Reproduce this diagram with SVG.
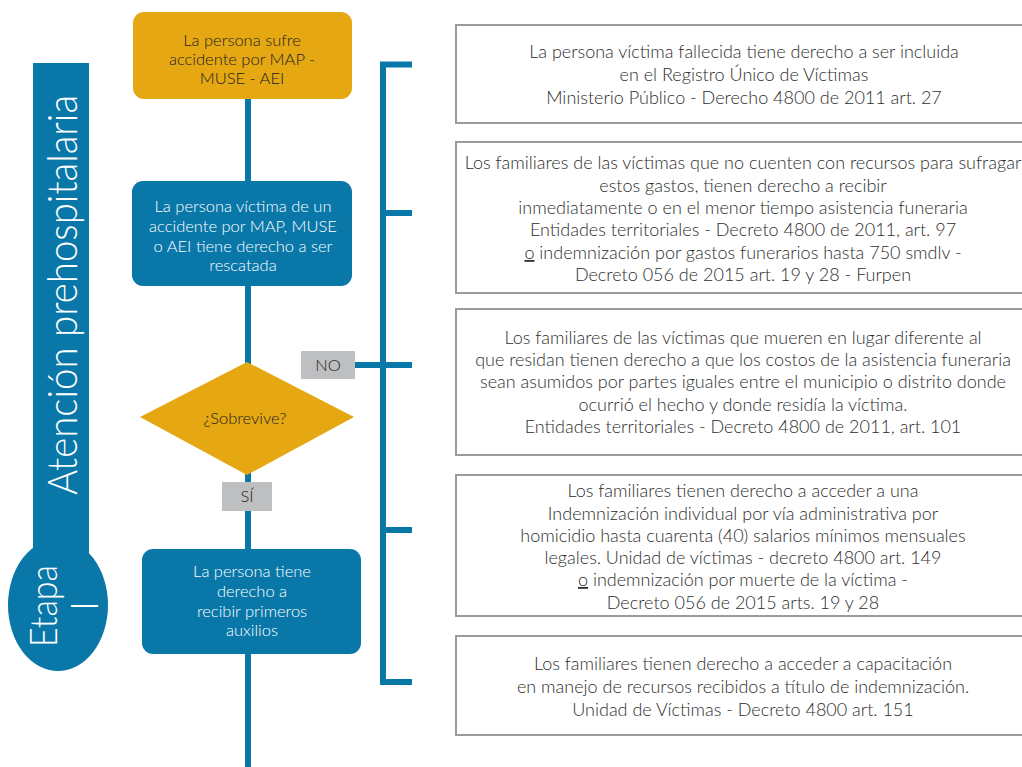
<svg xmlns="http://www.w3.org/2000/svg" width="1022" height="767" viewBox="0 0 1022 767">
<style>
.blue{fill:#0A77A9}
.yellow{fill:#E5A813}
.tag{fill:#BEBFC1}
.info{fill:#fff;stroke:#9B9B9B;stroke-width:2}
.line{stroke:#0A77A9;stroke-width:6;fill:none}
text{font-family:Lato,"Liberation Sans",Arial,sans-serif;font-weight:300}
.t{font-size:18px;fill:#2e2e2e;text-anchor:middle}
.w{font-size:16.5px;fill:#fff;text-anchor:middle}
.d{font-size:16.5px;fill:#222;text-anchor:middle}
.big{fill:#fff}
</style>
<g id="etapa">
<rect class="blue" x="33" y="63" width="56" height="490"/>
<ellipse class="blue" cx="58" cy="605" rx="50" ry="66"/>
<text class="big" font-size="41" transform="translate(77,495) rotate(-90)" textLength="400" lengthAdjust="spacingAndGlyphs">Atención prehospitalaria</text>
<text class="big" font-size="37" transform="translate(57,647) rotate(-90)" textLength="82" lengthAdjust="spacingAndGlyphs">Etapa</text>
<text class="big" font-size="37" transform="translate(98,606) rotate(-90)" text-anchor="middle">I</text>
</g>
<g id="connectors">
<line class="line" x1="248" y1="14" x2="248" y2="767" stroke-width="5.5"/>
<path class="line" d="M412 64.5H383V682H412M383 213H412M355 365H412M383 530H412"/>
</g>
<g id="n1">
<rect class="yellow" x="133" y="12" width="219" height="87" rx="11"/>
<text class="d" x="242" y="46">La persona sufre</text>
<text class="d" x="242" y="65">accidente por MAP -</text>
<text class="d" x="242" y="84">MUSE - AEI</text>
</g>
<g id="n2">
<rect class="blue" x="132" y="181" width="220" height="105" rx="11"/>
<text class="w" x="243" y="212">La persona víctima de un</text>
<text class="w" x="243" y="232">accidente por MAP, MUSE</text>
<text class="w" x="243" y="252">o AEI tiene derecho a ser</text>
<text class="w" x="243" y="271">rescatada</text>
</g>
<g id="n3">
<polygon class="yellow" points="247,362 354,417 247,475 140,417"/>
<text class="d" x="245" y="424">¿Sobrevive?</text>
</g>
<g id="no">
<rect class="tag" x="301" y="351" width="54" height="28"/>
<text class="d" x="328" y="371" font-size="17">NO</text>
</g>
<g id="si">
<rect class="tag" x="222" y="482" width="50" height="29"/>
<text class="d" x="247" y="502" font-size="17">SÍ</text>
</g>
<g id="n4">
<rect class="blue" x="142" y="549" width="219" height="105" rx="11"/>
<text class="w" x="252" y="577">La persona tiene</text>
<text class="w" x="252" y="597">derecho a</text>
<text class="w" x="252" y="617">recibir primeros</text>
<text class="w" x="252" y="636">auxilios</text>
</g>
<g id="b1">
<rect class="info" x="456" y="25" width="580" height="98"/>
<text class="t" x="744" y="58">La persona víctima fallecida tiene derecho a ser incluida</text>
<text class="t" x="744" y="81">en el Registro Único de Víctimas</text>
<text class="t" x="744" y="104">Ministerio Público - Derecho 4800 de 2011 art. 27</text>
</g>
<g id="b2">
<rect class="info" x="456" y="142" width="580" height="151"/>
<text class="t" x="743" y="169">Los familiares de las víctimas que no cuenten con recursos para sufragar</text>
<text class="t" x="743" y="192">estos gastos, tienen derecho a recibir</text>
<text class="t" x="743" y="214">inmediatamente o en el menor tiempo asistencia funeraria</text>
<text class="t" x="743" y="236">Entidades territoriales - Decreto 4800 de 2011, art. 97</text>
<text class="t" x="743" y="259"><tspan text-decoration="underline">o</tspan> indemnización por gastos funerarios hasta 750 smdlv -</text>
<text class="t" x="743" y="281">Decreto 056 de 2015 art. 19 y 28 - Furpen</text>
</g>
<g id="b3">
<rect class="info" x="456" y="309" width="580" height="146"/>
<text class="t" x="743" y="344">Los familiares de las víctimas que mueren en lugar diferente al</text>
<text class="t" x="743" y="366">que residan tienen derecho a que los costos de la asistencia funeraria</text>
<text class="t" x="743" y="388">sean asumidos por partes iguales entre el municipio o distrito donde</text>
<text class="t" x="743" y="411">ocurrió el hecho y donde residía la víctima.</text>
<text class="t" x="743" y="433">Entidades territoriales - Decreto 4800 de 2011, art. 101</text>
</g>
<g id="b4">
<rect class="info" x="456" y="475" width="580" height="141"/>
<text class="t" x="743" y="497">Los familiares tienen derecho a acceder a una</text>
<text class="t" x="743" y="520">Indemnización individual por vía administrativa por</text>
<text class="t" x="743" y="542">homicidio hasta cuarenta (40) salarios mínimos mensuales</text>
<text class="t" x="743" y="564">legales. Unidad de víctimas - decreto 4800 art. 149</text>
<text class="t" x="743" y="586"><tspan text-decoration="underline">o</tspan> indemnización por muerte de la víctima -</text>
<text class="t" x="743" y="609">Decreto 056 de 2015 arts. 19 y 28</text>
</g>
<g id="b5">
<rect class="info" x="456" y="636" width="580" height="99"/>
<text class="t" x="743" y="670">Los familiares tienen derecho a  acceder a capacitación</text>
<text class="t" x="743" y="693">en manejo de recursos recibidos a título de indemnización.</text>
<text class="t" x="743" y="716">Unidad de Víctimas - Decreto 4800 art. 151</text>
</g>
</svg>
